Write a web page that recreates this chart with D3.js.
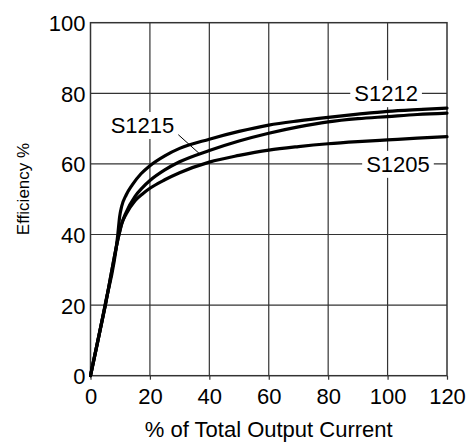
<!DOCTYPE html>
<html>
<head>
<meta charset="utf-8">
<script src="https://cdn.jsdelivr.net/npm/d3@7/dist/d3.min.js"></script>
<style>
  html, body { margin: 0; padding: 0; background: #fff; }
  svg { display: block; }
  text { font-family: "Liberation Sans", Arial, sans-serif; fill: #000; }
</style>
</head>
<body>
<svg id="chart" width="472" height="444"></svg>
<script>
// ---- data ----
const xTicks = [0, 20, 40, 60, 80, 100, 120];
const yTicks = [0, 20, 40, 60, 80, 100];
const xLabel = "% of Total Output Current";
const yLabel = "Efficiency %";

const seriesNames = ["S1212", "S1215", "S1205"];

const s1212 = [[0,0],[4.9,20],[9.2,40],[9.8,45],[10.5,48],[12,51.2],[14,54],[17,57.2],[20,59.5],[25,62.3],[30,64.4],[40,67.0],[50,69.2],[60,71.0],[70,72.2],[80,73.2],[90,74.1],[100,74.9],[110,75.4],[120,75.8]];
const s1215 = [[0,0],[5,20],[9.6,40],[10.5,43],[12,46.3],[15,50.8],[17.5,53.3],[20,55.3],[25,58.3],[30,60.6],[40,63.8],[50,66.5],[60,68.7],[70,70.5],[80,71.9],[90,72.8],[100,73.4],[110,74.0],[120,74.4]];
const s1205 = [[0,0],[5,20],[9.6,40],[10.5,43],[12,45.8],[15,49.6],[17.5,51.5],[20,53.1],[25,55.5],[30,57.5],[40,60.5],[50,62.4],[60,63.9],[70,64.9],[80,65.7],[90,66.3],[100,66.8],[110,67.3],[120,67.7]];

// label anchors (data coordinates)
const labelAnchors = [
  { name: "S1212", at: [99.5, 80] },
  { name: "S1215", at: [17.5, 71] },
  { name: "S1205", at: [103.5, 60] }
];
const leader = [[29, 68.7], [36.8, 62.8]];

// ---- layout ----
const svg = d3.select("#chart");
const x = d3.scaleLinear().domain([0, 120]).range([90.5, 447]);
const y = d3.scaleLinear().domain([0, 100]).range([375.7, 22.7]);

// gridlines
const grid = svg.append("g");
grid.selectAll("line.v").data(xTicks.slice(1, -1)).join("line")
  .attr("x1", d => x(d)).attr("x2", d => x(d))
  .attr("y1", y(0)).attr("y2", y(100))
  .attr("stroke", "#333").attr("stroke-width", 1.2);
grid.selectAll("line.h").data(yTicks.slice(1, -1)).join("line")
  .attr("x1", x(0)).attr("x2", x(120))
  .attr("y1", d => y(d)).attr("y2", d => y(d))
  .attr("stroke", "#333").attr("stroke-width", 1.2);

// frame
svg.append("rect")
  .attr("x", x(0)).attr("y", y(100))
  .attr("width", x(120) - x(0)).attr("height", y(0) - y(100))
  .attr("fill", "none").attr("stroke", "#333").attr("stroke-width", 1.5);

// axes
const xAxis = svg.append("g").attr("transform", `translate(0,${y(0)})`)
  .call(d3.axisBottom(x).tickValues(xTicks).tickSize(4).tickPadding(9).tickFormat(d3.format("d")));
const yAxis = svg.append("g").attr("transform", `translate(${x(0)},0)`)
  .call(d3.axisLeft(y).tickValues(yTicks).tickSize(0).tickPadding(5).tickFormat(d3.format("d")));
[xAxis, yAxis].forEach(a => {
  a.select(".domain").remove();
  a.selectAll(".tick line").attr("stroke", "#333").attr("stroke-width", 1.2);
  a.selectAll(".tick text").style("font-family", '"Liberation Sans", Arial, sans-serif')
    .style("font-size", "22px").attr("fill", "#000");
});
yAxis.selectAll(".tick text").attr("dy", "0.36em");

// axis titles
svg.append("text").attr("x", (x(0) + x(120)) / 2).attr("y", 437)
  .attr("text-anchor", "middle").style("font-size", "22px").text(xLabel);
svg.append("text").attr("transform", `translate(29,${189}) rotate(-90)`)
  .attr("text-anchor", "middle").style("font-size", "17px").text(yLabel);

// curves
const line = d3.line().x(d => x(d[0])).y(d => y(d[1])).curve(d3.curveMonotoneX);
const allSeries = [s1212, s1215, s1205];
svg.append("g").selectAll("path").data(allSeries).join("path")
  .attr("d", line).attr("fill", "none").attr("stroke", "#000")
  .attr("stroke-width", 3.2).attr("stroke-linejoin", "round").attr("stroke-linecap", "round");

// leader line
svg.append("line")
  .attr("x1", x(leader[0][0])).attr("y1", y(leader[0][1]))
  .attr("x2", x(leader[1][0])).attr("y2", y(leader[1][1]))
  .attr("stroke", "#000").attr("stroke-width", 1);

// series labels with white background
const lg = svg.append("g");
labelAnchors.forEach(a => {
  const g = lg.append("g");
  const t = g.append("text").attr("x", x(a.at[0])).attr("y", y(a.at[1]))
    .attr("text-anchor", "middle").attr("dy", "0.36em")
    .style("font-size", "22px").text(a.name);
  const bb = t.node().getBBox();
  g.insert("rect", "text")
    .attr("x", bb.x - 4).attr("y", bb.y - 1)
    .attr("width", bb.width + 8).attr("height", bb.height + 2)
    .attr("fill", "#fff");
});
</script>
</body>
</html>
